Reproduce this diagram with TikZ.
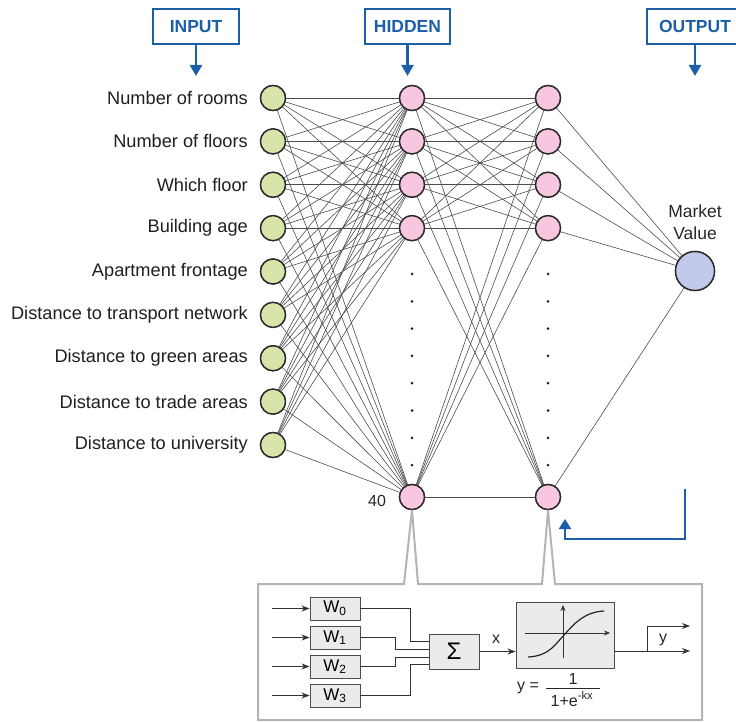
\documentclass[tikz,border=0pt]{standalone}
\usepackage{fontspec}
\setmainfont{Liberation Sans}
\usetikzlibrary{arrows.meta,calc}
\definecolor{bblue}{HTML}{1C5FA8}
\definecolor{ngreen}{HTML}{D8E5AA}
\definecolor{npink}{HTML}{F8C6DE}
\definecolor{nlav}{HTML}{C3C9EA}
\definecolor{nedge}{HTML}{2A2A2A}
\definecolor{cgray}{HTML}{B4B4B4}
\definecolor{bfill}{HTML}{EBEBEB}
\begin{document}
\begin{tikzpicture}[x=1pt,y=-1pt,
  neuron/.style={circle,draw=nedge,line width=1.4pt,minimum size=25pt,inner sep=0pt},
  inp/.style={neuron,fill=ngreen},
  hid/.style={neuron,fill=npink},
  outn/.style={neuron,fill=nlav,minimum size=39pt},
  edge/.style={draw=black!70,line width=0.6pt},
  lbl/.style={anchor=east,font=\fontsize{18.2}{21}\selectfont,text=black!88,inner sep=0pt},
  titlebox/.style={draw=bblue,line width=2.2pt,text=bblue,font=\fontsize{17.5}{20}\selectfont\bfseries,minimum height=35pt,inner sep=0pt},
  barrow/.style={draw=bblue,line width=2.2pt,-{Triangle[length=11pt,width=12pt]}},
  gbox/.style={draw=black!70,fill=bfill,line width=0.9pt,inner sep=0pt},
  wire/.style={draw=black!80,line width=0.9pt},
  warrow/.style={wire,-{Stealth[length=8pt,width=6pt]}},
  small/.style={font=\fontsize{16}{18}\selectfont,text=black!85,inner sep=0pt}
]
\useasboundingbox (0,0) rectangle (736,722);

% title boxes
\node[titlebox,minimum width=86pt] (tin) at (196,26.5) {INPUT};
\node[titlebox,minimum width=85pt] (thid) at (407.5,26.5) {HIDDEN};
\node[titlebox,minimum width=96pt] (tout) at (695,26.5) {OUTPUT};
\coordinate (ain) at (196,76);
\coordinate (ahid) at (407.5,76);
\coordinate (aout) at (695,76);
\draw[barrow] (tin.south) -- (ain);
\draw[barrow] (thid.south) -- (ahid);
\draw[barrow] (tout.south) -- (aout);

% input nodes
\foreach \i in {1,...,9} \node[inp] (i\i) at (273,{98+43.375*(\i-1)}) {};
% hidden layers
\foreach \k in {1,...,4} {
  \node[hid] (h\k) at (412,{98+43.375*(\k-1)}) {};
  \node[hid] (g\k) at (548,{98+43.375*(\k-1)}) {};
}
\node[hid] (h5) at (412,497) {};
\node[hid] (g5) at (548,497) {};
\node[outn] (o) at (695,271) {};

% edges
\foreach \i in {1,...,9} \foreach \j in {1,...,5} \draw[edge] (i\i) -- (h\j);
\foreach \i in {1,...,5} \foreach \j in {1,...,5} \draw[edge] (h\i) -- (g\j);
\foreach \j in {1,...,5} \draw[edge] (g\j) -- (o);
% redraw nodes on top
\foreach \i in {1,...,9} \node[inp] at (i\i) {};
\foreach \k in {1,...,5} {\node[hid] at (h\k) {}; \node[hid] at (g\k) {};}
\node[outn] at (o) {};

% dots
\foreach \k in {0,...,7} {
  \fill[black!85] (412,{274+27.3*\k}) circle (1.5);
  \fill[black!85] (548,{274+27.3*\k}) circle (1.5);
}

% labels
\foreach \i/\t in {1/Number of rooms,2/Number of floors,3/Which floor,4/Building age,5/Apartment frontage,6/Distance to transport network,7/Distance to green areas,8/Distance to trade areas,9/Distance to university}
  \node[lbl] (l\i) at (248,{98+43.375*(\i-1)}) {\t};
\node[small,font=\fontsize{16}{18}\selectfont] (n40) at (377,501) {40};
\node[align=center,font=\fontsize{17.5}{22}\selectfont,text=black!85,inner sep=0pt] (mv) at (695,222) {Market\\Value};

% feedback arrow
\coordinate (fb1) at (685,489);
\coordinate (fb2) at (685,539);
\coordinate (fb3) at (565,539);
\coordinate (fb4) at (565,519);
\draw[draw=bblue,line width=2.2pt,-{Triangle[length=10pt,width=12pt]}] (fb1) -- (fb2) -- (fb3) -- (fb4);

% callout
\draw[cgray,line width=2pt,line join=miter]
  (258,720) -- (258,584) -- (404,584) -- (h5.south) -- (418,584) -- (542,584) -- (g5.south) -- (555,584) -- (702,584) -- (702,720) -- cycle;

% neuron detail
\foreach \k in {0,...,3} {
  \node[gbox,minimum width=50pt,minimum height=23pt] (w\k) at (335,{608.5+29*\k}) {\fontsize{17}{19}\selectfont W\textsubscript{\k}};
  \coordinate (a\k) at (272,{608.5+29*\k});
  \draw[warrow] (a\k) -- (w\k.west);
}
\node[gbox,minimum width=50pt,minimum height=35pt] (sum) at (454,651.5) {\fontsize{24}{26}\selectfont Σ};
\node[gbox,minimum width=98pt,minimum height=66pt] (sig) at (565,635) {};
\coordinate (s0) at ($(sum.west)+(0,-10.5)$);
\coordinate (s1) at ($(sum.west)+(0,-2.5)$);
\coordinate (s2) at ($(sum.west)+(0,5.5)$);
\coordinate (s3) at ($(sum.west)+(0,12.5)$);
\draw[wire] (w0.east) -| ($(s0)+(-18,0)$) -- (s0);
\draw[wire] (w1.east) -| ($(s1)+(-33,0)$) -- (s1);
\draw[wire] (w2.east) -| ($(s2)+(-33,0)$) -- (s2);
\draw[wire] (w3.east) -| ($(s3)+(-18,0)$) -- (s3);
\coordinate (sx) at (sig.west |- sum.east);
\draw[warrow] (sum.east) -- (sx);
\node[small] (xl) at (496,639) {x};
% axes and curve
\coordinate (ax1) at (525,633);
\coordinate (ax2) at (610,633);
\coordinate (ay1) at (563,658);
\coordinate (ay2) at (563,605);
\draw[wire,line width=0.6pt,-{Stealth[length=6pt,width=5pt]}] (ax1) -- (ax2);
\draw[wire,line width=0.6pt,-{Stealth[length=6pt,width=5pt]}] (ay1) -- (ay2);
\draw[black!85,line width=1.2pt] (528,657) .. controls (550,656) and (556,643) .. (565,634) .. controls (574,624) and (584,612) .. (604,611);
% output
\coordinate (ob) at (647,651);
\coordinate (ot1) at (690,626);
\coordinate (ot2) at (690,651);
\draw[wire] (sig.east |- ob) -- (ob);
\draw[warrow] (ob) -- (ot2);
\draw[warrow] (ob) |- (ot1);
\node[small] (yl) at (663,640) {y};
% formula
\node[small] (feq) at (528,688) {y =};
\node[small] (fnum) at (573,679) {1};
\node[small] (fden) at (572,699) {1+e\textsuperscript{-kx}};
\draw[black!85,line width=0.7pt] (546,688) -- (600,688);
\end{tikzpicture}
\end{document}
